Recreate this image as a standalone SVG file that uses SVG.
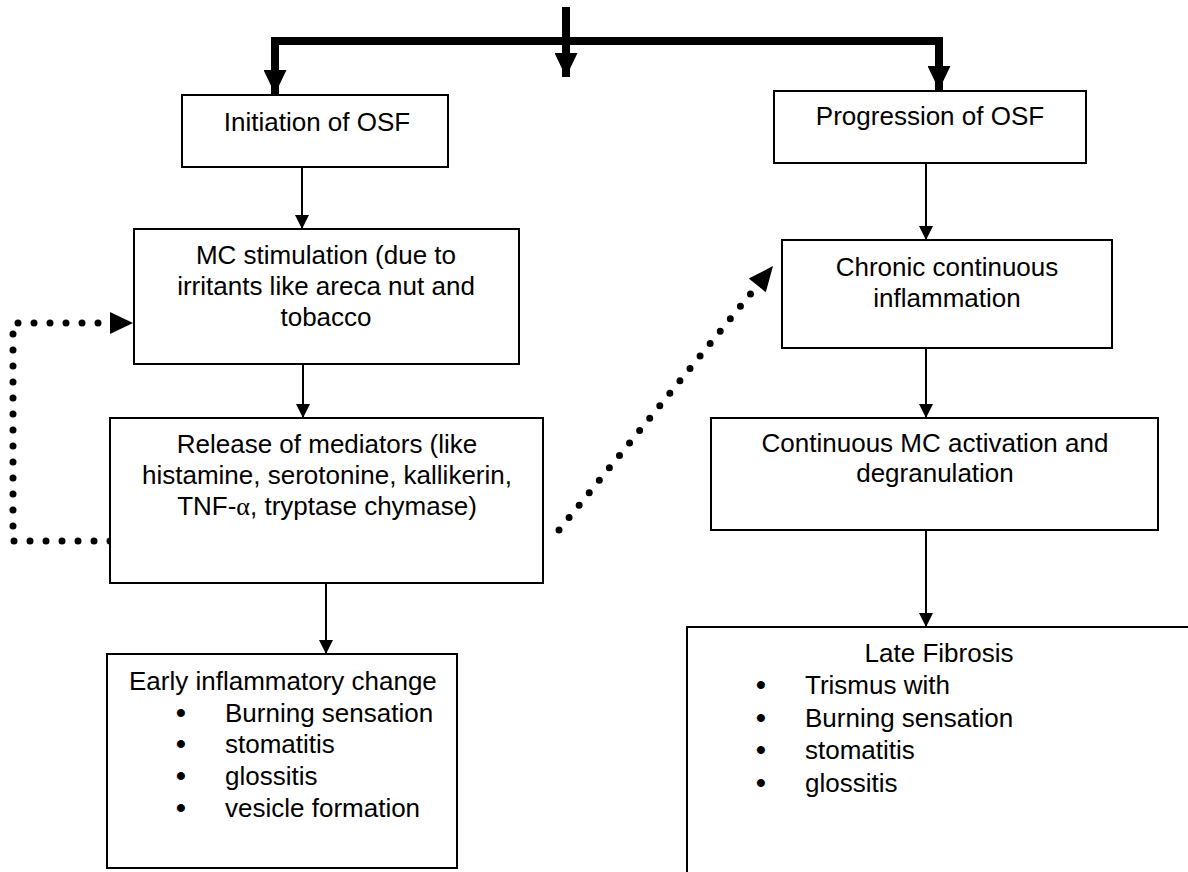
<svg xmlns="http://www.w3.org/2000/svg" width="1188" height="872" viewBox="0 0 1188 872">
<style>
.box{fill:#fff;stroke:#000;stroke-width:2}
.t{font-family:"Liberation Sans",Arial,sans-serif;font-size:26px;fill:#000}
.c{text-anchor:middle}
.b{font-weight:bold;font-size:28px}
.thin{fill:none;stroke:#000;stroke-width:2}
.thick{fill:none;stroke:#000;stroke-width:8}
.dot{fill:none;stroke:#000;stroke-width:7;stroke-linecap:round;stroke-dasharray:0 16}
.g{font-family:"Liberation Serif","Times New Roman",serif}
</style>
<defs>
<marker id="ah" markerUnits="userSpaceOnUse" markerWidth="14" markerHeight="14" refX="14" refY="7" orient="auto"><path d="M0,0 L14,7 L0,14 z" fill="#000"/></marker>
<marker id="ahb" markerUnits="userSpaceOnUse" markerWidth="24" markerHeight="23" refX="24" refY="11.5" orient="auto"><path d="M0,0 L24,11.5 L0,23 z" fill="#000"/></marker>
</defs>
<g id="connectors">
<path class="thick" d="M271,41 H943"/>
<path class="thick" d="M566,7 V77" marker-end="url(#ahb)"/>
<path class="thick" d="M275,41 V94" marker-end="url(#ahb)"/>
<path class="thick" d="M939,41 V90" marker-end="url(#ahb)"/>
<path class="thin" d="M302,167 V229" marker-end="url(#ah)"/>
<path class="thin" d="M303,364 V418" marker-end="url(#ah)"/>
<path class="thin" d="M326,583 V654" marker-end="url(#ah)"/>
<path class="thin" d="M926,163 V240" marker-end="url(#ah)"/>
<path class="thin" d="M926,348 V418" marker-end="url(#ah)"/>
<path class="thin" d="M926,530 V627" marker-end="url(#ah)"/>
<path class="dot" d="M110,541 H13 V323 H112"/>
<path d="M110,312 L133,323 L110,334 z" fill="#000"/>
<path class="dot" d="M559,530 L752,292"/>
<path d="M773,266 L765.8,292.3 L748.8,278.5 z" fill="#000"/>
</g>
<g id="n-initiation">
<rect class="box" x="182" y="95" width="266" height="72"/>
<text class="t c" x="317" y="131">Initiation of OSF</text>
</g>
<g id="n-mc">
<rect class="box" x="134" y="229" width="385" height="135"/>
<text class="t c" x="326" y="264">MC stimulation (due to</text>
<text class="t c" x="326" y="295">irritants like areca nut and</text>
<text class="t c" x="326" y="326">tobacco</text>
</g>
<g id="n-release">
<rect class="box" x="110" y="418" width="433" height="165"/>
<text class="t c" x="327" y="453">Release of mediators (like</text>
<text class="t c" x="327" y="484">histamine, serotonine, kallikerin,</text>
<text class="t c" x="327" y="515">TNF-<tspan class="g">α</tspan>, tryptase chymase)</text>
</g>
<g id="n-early">
<rect class="box" x="107" y="654" width="350" height="214"/>
<text class="t" x="129" y="690">Early inflammatory change</text>
<text class="t" y="722"><tspan class="b" x="176">•</tspan><tspan x="225">Burning sensation</tspan></text>
<text class="t" y="753"><tspan class="b" x="176">•</tspan><tspan x="225">stomatitis</tspan></text>
<text class="t" y="785"><tspan class="b" x="176">•</tspan><tspan x="225">glossitis</tspan></text>
<text class="t" y="817"><tspan class="b" x="176">•</tspan><tspan x="225">vesicle formation</tspan></text>
</g>
<g id="n-progression">
<rect class="box" x="774" y="91" width="312" height="72"/>
<text class="t c" x="930" y="125">Progression of OSF</text>
</g>
<g id="n-chronic">
<rect class="box" x="782" y="240" width="330" height="108"/>
<text class="t c" x="947" y="276">Chronic continuous</text>
<text class="t c" x="947" y="307">inflammation</text>
</g>
<g id="n-continuous">
<rect class="box" x="711" y="418" width="447" height="112"/>
<text class="t c" x="935" y="452">Continuous MC activation and</text>
<text class="t c" x="935" y="482">degranulation</text>
</g>
<g id="n-late">
<rect class="box" x="687" y="627" width="520" height="260"/>
<text class="t c" x="939" y="662">Late Fibrosis</text>
<text class="t" y="694"><tspan class="b" x="756">•</tspan><tspan x="805">Trismus with</tspan></text>
<text class="t" y="727"><tspan class="b" x="756">•</tspan><tspan x="805">Burning sensation</tspan></text>
<text class="t" y="759"><tspan class="b" x="756">•</tspan><tspan x="805">stomatitis</tspan></text>
<text class="t" y="792"><tspan class="b" x="756">•</tspan><tspan x="805">glossitis</tspan></text>
</g>
</svg>
